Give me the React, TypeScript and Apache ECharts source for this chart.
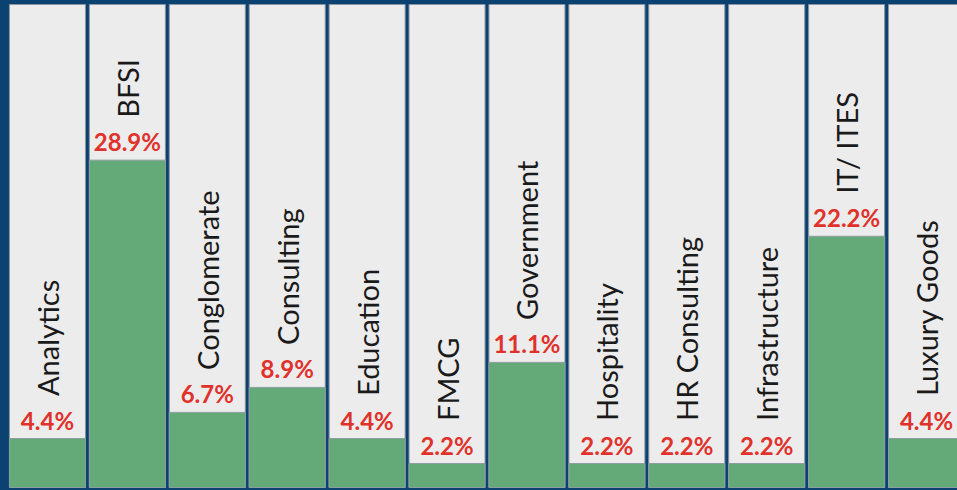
import React, { useEffect, useRef } from "react";
import * as echarts from "echarts";

const categories = [
  "Analytics",
  "BFSI",
  "Conglomerate",
  "Consulting",
  "Education",
  "FMCG",
  "Government",
  "Hospitality",
  "HR Consulting",
  "Infrastructure",
  "IT/ ITES",
  "Luxury Goods",
];
const shares = [4.4, 28.9, 6.7, 8.9, 4.4, 2.2, 11.1, 2.2, 2.2, 2.2, 22.2, 4.4];
const axisMax = 42.6;

export default function App() {
  const ref = useRef<HTMLDivElement>(null);
  useEffect(() => {
    if (!ref.current) return;
    const chart = echarts.init(ref.current, null, { renderer: "svg" });
    chart.setOption({
      animation: false,
      backgroundColor: "#0b4271",
      grid: {
        left: 7.5,
        width: 959,
        top: 4,
        bottom: 2,
        containLabel: false,
        outerBoundsMode: "none",
      },
      xAxis: {
        type: "category",
        data: categories,
        show: false,
      },
      yAxis: { type: "value", min: 0, max: axisMax, show: false },
      series: [
        {
          type: "bar",
          silent: true,
          barWidth: 77,
          barGap: "-100%",
          data: categories.map(() => axisMax),
          itemStyle: { color: "#ececec", borderColor: "#8d969e", borderWidth: 1 },
          z: 1,
        },
        {
          type: "bar",
          barWidth: 77,
          barGap: "-100%",
          data: shares,
          itemStyle: { color: "#64aa78", borderColor: "#8d9ea0", borderWidth: 1 },
          label: {
            show: true,
            position: "top",
            distance: 6,
            formatter: "{c}%",
            color: "#e0312a",
            fontFamily: "Lato",
            fontWeight: "bold",
            fontSize: 24,
          },
          z: 2,
        },
        {
          type: "bar",
          barWidth: 77,
          barGap: "-100%",
          data: shares,
          itemStyle: { color: "rgba(0,0,0,0)" },
          label: {
            show: true,
            position: "top",
            distance: 42,
            rotate: 90,
            align: "left",
            verticalAlign: "middle",
            formatter: "{b}",
            color: "#1a1a1a",
            fontFamily: "Lato",
            fontSize: 29,
          },
          z: 3,
        },
      ],
    });
    return () => chart.dispose();
  }, []);
  return (
    <div
      ref={ref}
      style={{ position: "fixed", left: 0, top: 0, width: 957, height: 490 }}
    />
  );
}
